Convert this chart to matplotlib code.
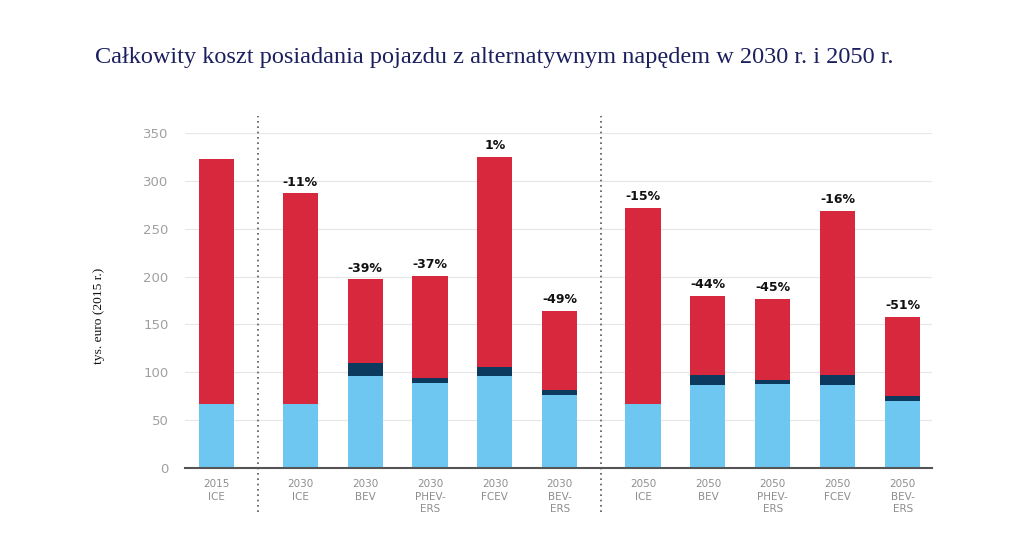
import matplotlib
matplotlib.use("Agg")
import matplotlib.pyplot as plt
import numpy as np

# Data (tys. euro, 2015 r.)
labels = ["2015\nICE", "2030\nICE", "2030\nBEV", "2030\nPHEV-\nERS", "2030\nFCEV", "2030\nBEV-\nERS",
          "2050\nICE", "2050\nBEV", "2050\nPHEV-\nERS", "2050\nFCEV", "2050\nBEV-\nERS"]
base = [67, 67, 96, 89, 96, 76, 67, 87, 88, 87, 70]        # light blue
middle = [0, 0, 14, 5, 10, 5, 0, 10, 4, 10, 5]             # dark navy
total = [323, 287, 197, 201, 325, 164, 272, 180, 177, 269, 158]
change = ["", "-11%", "-39%", "-37%", "1%", "-49%", "-15%", "-44%", "-45%", "-16%", "-51%"]

upper = [t - b - m for t, b, m in zip(total, base, middle)]

c_light = "#6DC7F1"
c_dark = "#0C3A5E"
c_red = "#D7283E"

# group gaps between 2015 / 2030 / 2050
x = np.array([0, 1.29, 2.29, 3.29, 4.29, 5.29, 6.57, 7.57, 8.57, 9.57, 10.57])

fig = plt.figure(figsize=(10.23, 5.39), dpi=100)
ax = fig.add_axes([0.181, 0.1317, 0.73, 0.6215])

w = 0.54
ax.bar(x, base, w, color=c_light, zorder=3)
ax.bar(x, middle, w, bottom=base, color=c_dark, zorder=3)
ax.bar(x, upper, w, bottom=np.array(base) + np.array(middle), color=c_red, zorder=3)

for xi, t, lab in zip(x, total, change):
    if lab:
        ax.text(xi, t + 5, lab, ha="center", va="bottom", fontsize=9, fontweight="bold",
                color="#111111")

ax.set_ylim(0, 350)
ax.set_xlim(-0.48, 11.02)
ax.set_yticks(range(0, 351, 50))
ax.yaxis.grid(True, color="#E6E6E6", linewidth=0.8, zorder=0)
ax.set_xticks(x)
ax.set_xticklabels(labels, fontsize=7.5, color="#8E8E8E", linespacing=1.3)
ax.tick_params(axis="y", length=0, labelsize=9.5, labelcolor="#A0A0A0", pad=12)
ax.tick_params(axis="x", length=0, pad=8)

for s in ["top", "right", "left"]:
    ax.spines[s].set_visible(False)
ax.spines["bottom"].set_color("#555555")
ax.spines["bottom"].set_linewidth(1.5)
ax.spines["bottom"].set_zorder(4)

# dotted separators between years
for xs in [(x[0] + x[1]) / 2, (x[5] + x[6]) / 2]:
    ax.plot([xs, xs], [-46, 368], linestyle=(0, (1, 2.2)), color="#555555",
            linewidth=1.2, clip_on=False, zorder=2)

ax.set_ylabel("tys. euro (2015 r.)", family="Liberation Serif", fontsize=9.7,
              color="#111111")
ax.yaxis.set_label_coords(-0.107, 0.454)

fig.text(0.093, 0.893, "Całkowity koszt posiadania pojazdu z alternatywnym napędem w 2030 r. i 2050 r.",
         family="Liberation Serif", fontsize=17.5, color="#1B1F5E", ha="left", va="center")

fig.savefig("out.png", dpi=100)
